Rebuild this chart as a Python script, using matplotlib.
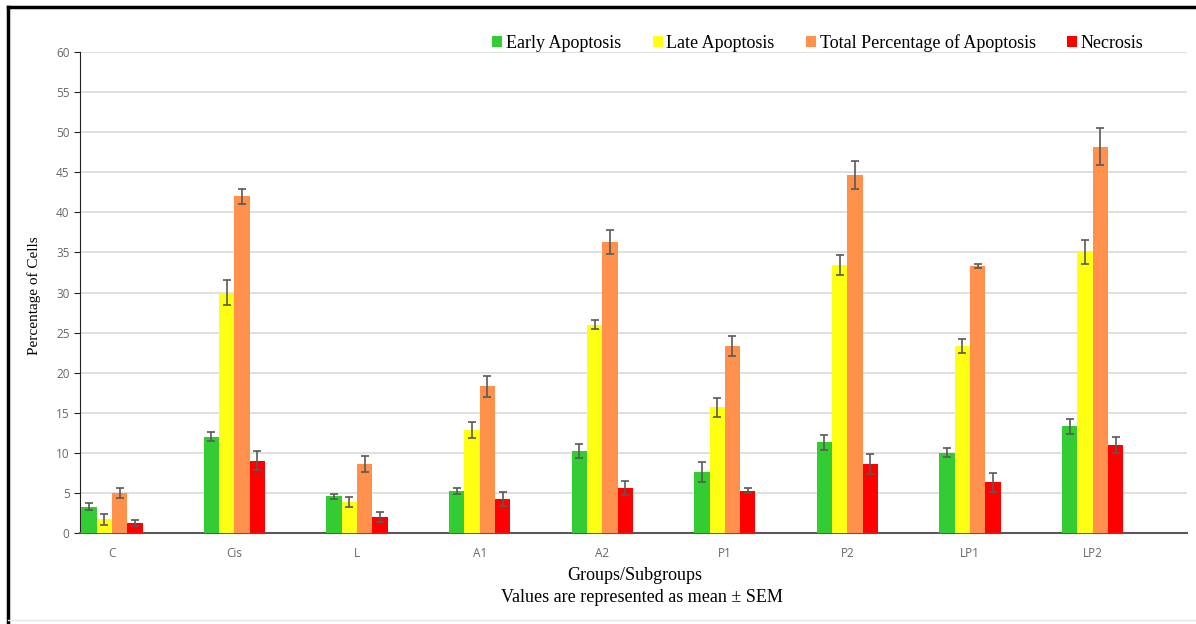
import numpy as np
import matplotlib.pyplot as plt
from matplotlib.lines import Line2D

groups = ["C", "Cis", "L", "A1", "A2", "P1", "P2", "LP1", "LP2"]
series = ["Early Apoptosis", "Late Apoptosis", "Total Percentage of Apoptosis", "Necrosis"]
colors = ["#33cc33", "#ffff14", "#ff914d", "#ff0000"]

early = [3.3, 12.0, 4.6, 5.25, 10.2, 7.6, 11.3, 10.0, 13.3]
early_err = [0.4, 0.58, 0.3, 0.35, 0.9, 1.2, 0.9, 0.55, 0.9]
late = [1.7, 30.0, 3.9, 12.9, 26.0, 15.7, 33.4, 23.3, 35.0]
late_err = [0.67, 1.5, 0.65, 1.0, 0.6, 1.2, 1.25, 0.9, 1.5]
total = [5.0, 42.0, 8.6, 18.3, 36.3, 23.3, 44.7, 33.3, 48.2]
total_err = [0.6, 0.9, 0.98, 1.33, 1.46, 1.25, 1.75, 0.3, 2.35]
necrosis = [1.25, 9.0, 1.95, 4.2, 5.6, 5.3, 8.6, 6.3, 11.0]
necrosis_err = [0.37, 1.19, 0.62, 0.87, 0.9, 0.3, 1.2, 1.2, 1.0]

values = [early, late, total, necrosis]
errors = [early_err, late_err, total_err, necrosis_err]

fig = plt.figure(figsize=(11.96, 6.24), dpi=100)
ax = fig.add_axes([80/1196, 91/624, 1107/1196, 481/624])

x = np.arange(len(groups))
w = 0.125
for i in range(4):
    ax.bar(x + (i - 1.5)*w, values[i], w, color=colors[i], label=series[i], zorder=3,
           yerr=errors[i], capsize=3,
           error_kw=dict(ecolor="#595959", elinewidth=1.2, capthick=1.2, zorder=4))

ax.set_ylim(0, 60)
ax.set_xlim(-0.26, 8.77)
ax.set_yticks(range(0, 61, 5))
ax.set_xticks(x)
ax.set_xticklabels(groups)
ax.grid(axis="y", color="#dadada", lw=1.2, zorder=0)
for s in ["top", "right"]:
    ax.spines[s].set_visible(False)
ax.spines["left"].set_color("#222222")
ax.spines["bottom"].set_color("#595959")
ax.spines["bottom"].set_linewidth(1.5)
ax.tick_params(axis="x", length=0, pad=10, labelsize=8.5, labelcolor="#666666")
ax.tick_params(axis="y", length=4, color="#222222", labelsize=8.5, labelcolor="#666666")
for t in ax.get_xticklabels() + ax.get_yticklabels():
    t.set_family("Open Sans")

fig.text(34/1196, 1 - 296/624, "Percentage of Cells", family="Liberation Serif",
         fontsize=11, rotation=90, ha="center", va="center")
fig.text(635/1196, 1 - 576/624, "Groups/Subgroups", family="Liberation Serif",
         fontsize=13, ha="center", va="center")
fig.text(642/1196, 1 - 598/624, "Values are represented as mean \u00b1 SEM",
         family="Liberation Serif", fontsize=13, ha="center", va="center")

fig.legend(loc="center", bbox_to_anchor=(818/1196, 1 - 43/624), ncol=4, frameon=False,
           prop=dict(family="Liberation Serif", size=13), handlelength=0.55,
           handleheight=0.55, handletextpad=0.2, columnspacing=1.75)

# outer frame (top and left edges, faint bottom)
fig.add_artist(Line2D([8/1196, 1], [1 - 7/624, 1 - 7/624], color="black", lw=2.5))
fig.add_artist(Line2D([8/1196, 8/1196], [0, 1 - 7/624], color="black", lw=2.5))
fig.add_artist(Line2D([8/1196, 1], [4/624, 4/624], color="#e6e6e6", lw=1))

fig.savefig("out.png", dpi=100)
